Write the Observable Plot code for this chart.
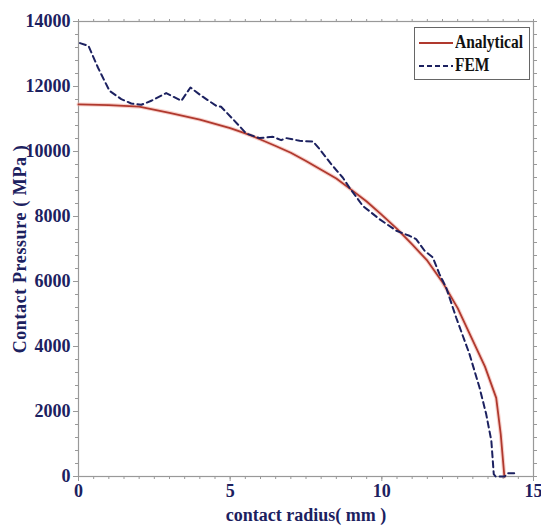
<!DOCTYPE html>
<html>
<head>
<meta charset="utf-8">
<script src="https://cdn.jsdelivr.net/npm/d3@7"></script>
<script src="https://cdn.jsdelivr.net/npm/@observablehq/plot@0.6"></script>
<style>
  html, body { margin: 0; padding: 0; background: #fff; }
  #wrap { position: relative; width: 541px; height: 529px; }
  #wrap svg text { font-weight: bold; }
  #legend { position: absolute; left: 414px; top: 27px; width: 116px; height: 53px;
    border: 1px solid #666; background: #fff; box-sizing: border-box;
    font-family: "Liberation Serif", serif; font-weight: bold; font-size: 18px; color: #111; }
  #legend .row { position: absolute; left: 4px; display: flex; align-items: center; white-space: nowrap; }
  #legend .row span { display: inline-block; transform: scaleX(0.86); transform-origin: left center; }
  #legend svg { margin-right: 2px; }
</style>
</head>
<body>
<div id="wrap"></div>
<script>
// Analytical solution
const anaR = [0, 1, 2, 3, 4, 5, 5.5, 6, 6.5, 7, 7.5, 8, 8.5, 9, 9.5, 10, 10.5, 11, 11.5, 12, 12.5, 13, 13.4, 13.77, 13.92, 14.04];
const anaP = [11450, 11430, 11380, 11190, 10980, 10720, 10560, 10370, 10170, 9960, 9710, 9440, 9170, 8820, 8460, 8050, 7620, 7140, 6640, 5980, 5180, 4180, 3380, 2420, 1300, 0];

// FEM result
const femR = [0.05, 0.33, 0.64, 1.02, 1.41, 1.74, 2.07, 2.4, 2.89, 3.39, 3.69, 4.05, 4.54, 4.7, 5.09, 5.53, 5.97, 6.41, 6.68, 6.85, 7.29, 7.73, 7.95, 8.33, 8.71, 8.93, 9.37, 9.92, 10.48, 10.91, 11.13, 11.41, 11.68, 11.9, 12.12, 12.45, 12.89, 13.22, 13.44, 13.61, 13.69, 13.75, 14.05, 14.15, 14.4];
const femP = [13335, 13250, 12585, 11868, 11612, 11477, 11437, 11560, 11797, 11560, 11970, 11714, 11406, 11375, 10997, 10554, 10412, 10452, 10350, 10412, 10329, 10308, 10074, 9612, 9200, 8892, 8329, 7920, 7560, 7406, 7304, 6945, 6740, 6227, 5815, 4892, 3766, 2738, 1920, 1098, 74, 0, 0, 100, 100];

const xMajor = [0, 5, 10, 15];
const yMajor = [0, 2000, 4000, 6000, 8000, 10000, 12000, 14000];
const xMinor = d3.range(0, 15.001, 0.5);
const yMinor = d3.range(0, 14001, 400);

const ana = anaR.map((r, i) => ({r, p: anaP[i]}));
const fem = femR.map((r, i) => ({r, p: femP[i]}));

const navy = "#1c2160";
const red = "#b0392e";
const frameC = "#999";

const chart = Plot.plot({
  width: 541,
  height: 529,
  marginLeft: 78,
  marginRight: 8,
  marginTop: 21,
  marginBottom: 53,
  style: {fontFamily: "'Liberation Serif', serif", fontSize: "18px", color: navy, background: "#fff"},
  x: {domain: [0, 15]},
  y: {domain: [0, 14000]},
  marks: [
    Plot.frame({stroke: frameC, strokeWidth: 1.2}),
    Plot.axisX({ticks: xMinor, tickSize: 3, stroke: frameC, text: null, label: null}),
    Plot.axisX({anchor: "top", ticks: xMinor, tickSize: 3, stroke: frameC, text: null, label: null}),
    Plot.axisY({ticks: yMinor, tickSize: 3, stroke: frameC, text: null, label: null}),
    Plot.axisY({anchor: "right", ticks: yMinor, tickSize: 3, stroke: frameC, text: null, label: null}),
    Plot.axisX({ticks: xMajor, tickSize: 5, stroke: frameC, tickPadding: 3, tickFormat: d => String(d), fill: navy, fontSize: 18, label: null}),
    Plot.axisY({ticks: yMajor, tickSize: 5, stroke: frameC, tickPadding: 3, tickFormat: d => String(d), fill: navy, fontSize: 18, label: null}),
    Plot.text(["contact radius( mm )"], {frameAnchor: "bottom", dy: 44, fill: navy, fontSize: 18}),
    Plot.text(["Contact Pressure ( MPa )"], {frameAnchor: "left", textAnchor: "middle", dx: -58, rotate: -90, fill: navy, fontSize: 18}),
    Plot.line(ana, {x: "r", y: "p", stroke: "#f2b3aa", strokeWidth: 4, strokeOpacity: 0.6}),
    Plot.line(ana, {x: "r", y: "p", stroke: red, strokeWidth: 1.8}),
    Plot.line(fem, {x: "r", y: "p", stroke: navy, strokeWidth: 2, strokeDasharray: "6,4"})
  ]
});

const wrap = document.getElementById("wrap");
wrap.appendChild(chart);
chart.querySelectorAll("text").forEach(t => { if (t.textContent.startsWith("Contact")) t.setAttribute("letter-spacing", "0.6"); });

const legend = document.createElement("div");
legend.id = "legend";
legend.innerHTML = `
  <div class="row" style="top:4px"><svg width="34" height="20"><line x1="0" x2="34" y1="10" y2="10" stroke="${red}" stroke-width="2"/></svg><span>Analytical</span></div>
  <div class="row" style="top:27px"><svg width="34" height="20"><line x1="0" x2="34" y1="10" y2="10" stroke="${navy}" stroke-width="2" stroke-dasharray="5,3"/></svg><span>FEM</span></div>`;
wrap.appendChild(legend);
</script>
</body>
</html>
